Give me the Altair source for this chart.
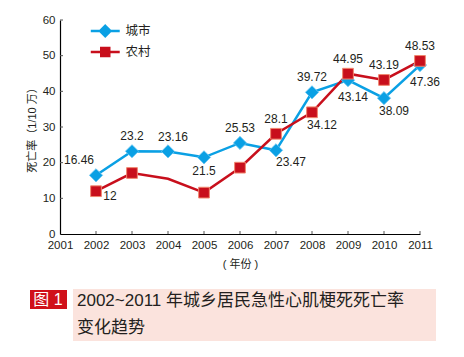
import altair as alt
import pandas as pd

# ---------------- data ----------------
years = [2002, 2003, 2004, 2005, 2006, 2007, 2008, 2009, 2010, 2011]
city_values = [16.46, 23.2, 23.16, 21.5, 25.53, 23.47, 39.72, 43.14, 38.09, 47.36]
rural_values = [12, 17.1, 15.5, 11.6, 18.6, 28.1, 34.12, 44.95, 43.19, 48.53]
rural_has_marker = [True, True, False, True, True, True, True, True, True, True]
city_labels = ["16.46", "23.2", "23.16", "21.5", "25.53", "23.47", "39.72", "43.14", "38.09", "47.36"]
rural_labels = ["12", "", "", "", "", "28.1", "34.12", "44.95", "43.19", "48.53"]
city_label_place = ["above_left", "above", "above_right", "below", "above", "right_below",
                    "above", "below_far", "below_right", "below_far"]
rural_label_place = ["right", "", "", "", "", "above", "below_right", "above", "above", "above"]

series_names = ["城市", "农村"]
series_colors = ["#0aa0e4", "#c80f1c"]
marker_edges = ["#6cc6f2", "#f0866e"]

x_tick_values = list(range(2001, 2012))
y_tick_values = [0, 10, 20, 30, 40, 50, 60]
inner_x_ticks = list(range(2002, 2012))
inner_y_ticks = [10, 20, 30, 40, 50, 60]

x_title = "( 年份 )"
y_title = "死亡率（1/10 万）"
fig_tag = "图 1"
caption_lines = ["2002~2011 年城乡居民急性心肌梗死死亡率", "变化趋势"]

# ---------------- styling ----------------
FONT = "Liberation Sans, Noto Sans CJK SC"
W, H = 360, 214
label_offsets = {
    "above": (0, -15),
    "above_left": (-17, -15),
    "above_right": (5, -14),
    "below": (0, 14),
    "below_right": (10, 13),
    "below_far": (5, 17),
    "right_below": (15, 12),
    "right": (14, 5),
}

rows = []
for i, yr in enumerate(years):
    rows.append(dict(year=yr, value=city_values[i], series=series_names[0],
                     label=city_labels[i], place=city_label_place[i], marker=True))
    rows.append(dict(year=yr, value=rural_values[i], series=series_names[1],
                     label=rural_labels[i], place=rural_label_place[i], marker=rural_has_marker[i]))
df = pd.DataFrame(rows)

x_axis = alt.Axis(values=x_tick_values, format="d", title=x_title, ticks=False,
                  grid=False, labelPadding=5, titlePadding=8, labelFlush=False,
                  labelOverlap=False)
y_axis = alt.Axis(values=y_tick_values, title=y_title, ticks=False, grid=False,
                  labelPadding=5, titlePadding=5, labelOverlap=False)
x_scale = alt.Scale(domain=[2001, 2011], nice=False, zero=False)
y_scale = alt.Scale(domain=[0, 60], nice=False)
x_enc = alt.X("year:Q", scale=x_scale, axis=x_axis)
y_enc = alt.Y("value:Q", scale=y_scale, axis=y_axis)

base = alt.Chart(df).encode(x=x_enc, y=y_enc)

layers = []
# lines
for name, col in zip(series_names, series_colors):
    layers.append(base.transform_filter(alt.datum.series == name)
                  .mark_line(color=col, strokeWidth=2.5))
# markers
layers.append(base.transform_filter(alt.datum.series == series_names[0])
              .mark_point(shape="diamond", filled=True, size=175, fill=series_colors[0],
                          stroke=marker_edges[0], strokeWidth=0.8, opacity=1))
layers.append(base.transform_filter((alt.datum.series == series_names[1]) & alt.datum.marker)
              .mark_point(shape="square", filled=True, size=115, fill=series_colors[1],
                          stroke=marker_edges[1], strokeWidth=1, opacity=1))
# value labels
for place, (dx, dy) in label_offsets.items():
    layers.append(base.transform_filter(alt.datum.place == place)
                  .mark_text(dx=dx, dy=dy, fontSize=12, font=FONT, color="#231f20",
                             baseline="middle", align="center")
                  .encode(text="label:N"))

# inner tick marks
xt = pd.DataFrame({"year": inner_x_ticks})
layers.append(alt.Chart(xt).mark_rule(color="#555", strokeWidth=1)
              .encode(x=x_enc, y=alt.value(H - 3), y2=alt.value(H)))
yt = pd.DataFrame({"value": inner_y_ticks})
layers.append(alt.Chart(yt).mark_rule(color="#555", strokeWidth=1)
              .encode(y=y_enc, x=alt.value(0), x2=alt.value(3)))

# legend layer (no marks drawn, legend only)
legend_paths = ["M-1.81,0H1.81M0,-0.65L0.65,0L0,0.65L-0.65,0Z",
                "M-1.81,0H1.81M-0.5,-0.5H0.5V0.5H-0.5Z"]
leg = alt.Legend(title=None, orient="none", legendX=35.75, legendY=1.5, padding=0,
                 symbolSize=256, symbolStrokeWidth=2.5, labelFontSize=12.5, labelFont=FONT,
                 labelColor="#231f20", labelOffset=10.75, rowPadding=1)
layers.append(alt.Chart(df).transform_filter(alt.datum.year < 0)
              .mark_point(filled=True, opacity=1)
              .encode(x=x_enc, y=y_enc,
                      fill=alt.Fill("series:N", scale=alt.Scale(domain=series_names, range=series_colors), legend=leg),
                      stroke=alt.Stroke("series:N", scale=alt.Scale(domain=series_names, range=series_colors), legend=leg),
                      shape=alt.Shape("series:N", scale=alt.Scale(domain=series_names, range=legend_paths), legend=leg)))

# caption
one = pd.DataFrame({"t": [fig_tag]})
layers.append(alt.Chart(one).mark_rect(color="#fbe3dd")
              .encode(x=alt.value(13), x2=alt.value(376), y=alt.value(269), y2=alt.value(321)))
layers.append(alt.Chart(one).mark_rect(color="#d0101a")
              .encode(x=alt.value(-30), x2=alt.value(7), y=alt.value(270), y2=alt.value(289)))
layers.append(alt.Chart(one).mark_text(color="white", fontSize=16, font=FONT, align="center",
                                       baseline="middle")
              .encode(text="t:N", x=alt.value(-12), y=alt.value(280)))
cap = pd.DataFrame({"t": caption_lines, "row": [0, 1]})
for r, ypos in [(0, 280.5), (1, 307.5)]:
    layers.append(alt.Chart(cap).transform_filter(alt.datum.row == r)
                  .mark_text(color="#231f20", fontSize=17, font=FONT, align="left", baseline="middle")
                  .encode(text="t:N", x=alt.value(17), y=alt.value(ypos)))

chart = alt.layer(*layers).properties(
    width=W, height=H,
    autosize=alt.AutoSizeParams(type="none"),
    padding={"left": 52, "top": 12, "right": 36, "bottom": 115},
).configure_view(stroke=None).configure_axis(
    domainColor="#000", domainWidth=1.2, labelFont=FONT, titleFont=FONT,
    labelFontSize=11.5, titleFontSize=11, labelColor="#231f20", titleColor="#231f20",
    titleFontWeight="normal",
)

chart.save("out.html", embed_options={"renderer": "svg", "actions": False})
